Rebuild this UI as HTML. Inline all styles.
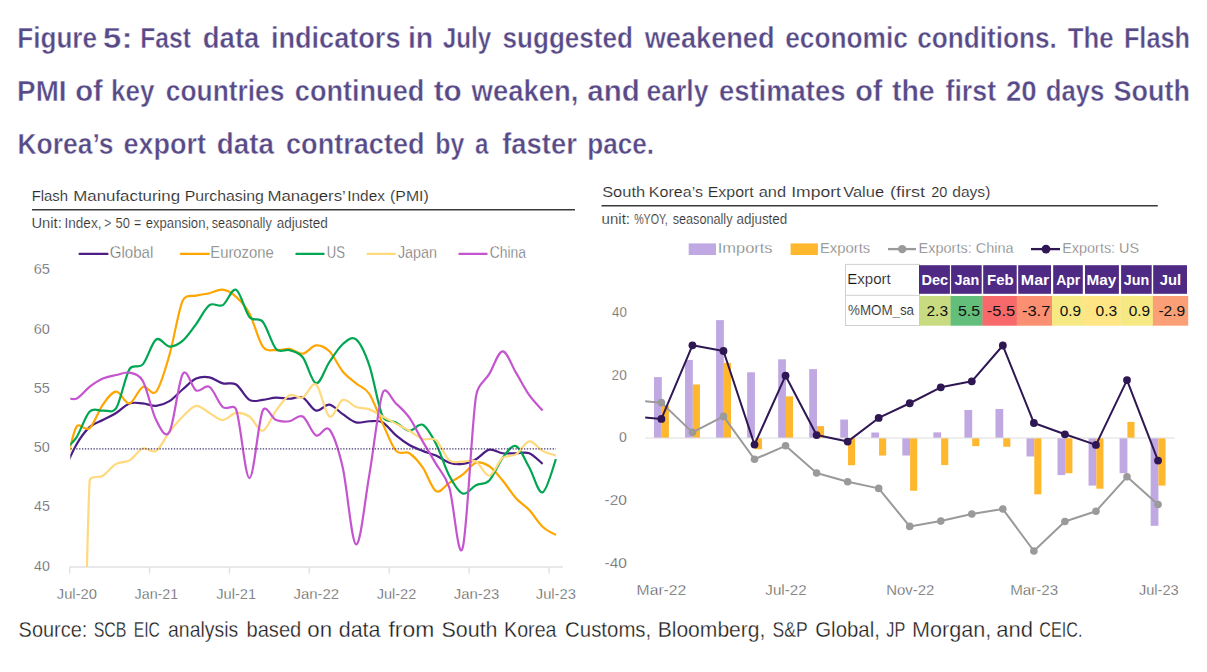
<!DOCTYPE html>
<html><head><meta charset="utf-8"><style>
html,body{margin:0;padding:0;background:#fff;}
body{width:1207px;height:672px;overflow:hidden;position:relative;font-family:"Liberation Sans",sans-serif;}
svg{position:absolute;left:0;top:0;font-family:"Liberation Sans",sans-serif;}
.tt{fill:#574a87;stroke:#fff;stroke-width:0.45px;}
.ax{fill:#4d4d4d;stroke:#fff;stroke-width:0.35px;}
.lg{fill:#686868;stroke:#fff;stroke-width:0.35px;}
.lg2{fill:#707070;stroke:#fff;stroke-width:0.35px;}
.ct{fill:#2b2b2b;stroke:#fff;stroke-width:0.15px;}
.cs{fill:#333;stroke:#fff;stroke-width:0.15px;}
.th{fill:#fff;}
.td{fill:#111;}
.tl{fill:#111;stroke:#fff;stroke-width:0.2px;}
.src{fill:#1a1a1a;stroke:#fff;stroke-width:0.3px;}
</style></head><body>
<svg width="1207" height="672" viewBox="0 0 1207 672">
<text x="17.24" y="47.80" textLength="79.83" lengthAdjust="spacingAndGlyphs" style="font-size:29.30px;font-weight:bold;" class="tt">Figure</text>
<text x="102.80" y="47.80" textLength="29.74" lengthAdjust="spacingAndGlyphs" style="font-size:29.30px;font-weight:bold;" class="tt">5:</text>
<text x="140.24" y="47.80" textLength="50.70" lengthAdjust="spacingAndGlyphs" style="font-size:29.30px;font-weight:bold;" class="tt">Fast</text>
<text x="202.80" y="47.80" textLength="56.63" lengthAdjust="spacingAndGlyphs" style="font-size:29.30px;font-weight:bold;" class="tt">data</text>
<text x="270.90" y="47.80" textLength="129.62" lengthAdjust="spacingAndGlyphs" style="font-size:29.30px;font-weight:bold;" class="tt">indicators</text>
<text x="407.90" y="47.80" textLength="25.34" lengthAdjust="spacingAndGlyphs" style="font-size:29.30px;font-weight:bold;" class="tt">in</text>
<text x="442.74" y="47.80" textLength="48.51" lengthAdjust="spacingAndGlyphs" style="font-size:29.30px;font-weight:bold;" class="tt">July</text>
<text x="502.49" y="47.80" textLength="130.54" lengthAdjust="spacingAndGlyphs" style="font-size:29.30px;font-weight:bold;" class="tt">suggested</text>
<text x="644.67" y="47.80" textLength="129.91" lengthAdjust="spacingAndGlyphs" style="font-size:29.30px;font-weight:bold;" class="tt">weakened</text>
<text x="785.15" y="47.80" textLength="122.79" lengthAdjust="spacingAndGlyphs" style="font-size:29.30px;font-weight:bold;" class="tt">economic</text>
<text x="917.15" y="47.80" textLength="139.74" lengthAdjust="spacingAndGlyphs" style="font-size:29.30px;font-weight:bold;" class="tt">conditions.</text>
<text x="1067.84" y="47.80" textLength="45.81" lengthAdjust="spacingAndGlyphs" style="font-size:29.30px;font-weight:bold;" class="tt">The</text>
<text x="1123.89" y="47.80" textLength="66.18" lengthAdjust="spacingAndGlyphs" style="font-size:29.30px;font-weight:bold;" class="tt">Flash</text>
<text x="17.12" y="101.20" textLength="49.47" lengthAdjust="spacingAndGlyphs" style="font-size:29.30px;font-weight:bold;" class="tt">PMI</text>
<text x="75.13" y="101.20" textLength="27.64" lengthAdjust="spacingAndGlyphs" style="font-size:29.30px;font-weight:bold;" class="tt">of</text>
<text x="110.98" y="101.20" textLength="43.38" lengthAdjust="spacingAndGlyphs" style="font-size:29.30px;font-weight:bold;" class="tt">key</text>
<text x="165.74" y="101.20" textLength="118.74" lengthAdjust="spacingAndGlyphs" style="font-size:29.30px;font-weight:bold;" class="tt">countries</text>
<text x="294.82" y="101.20" textLength="129.44" lengthAdjust="spacingAndGlyphs" style="font-size:29.30px;font-weight:bold;" class="tt">continued</text>
<text x="433.73" y="101.20" textLength="28.03" lengthAdjust="spacingAndGlyphs" style="font-size:29.30px;font-weight:bold;" class="tt">to</text>
<text x="471.57" y="101.20" textLength="106.92" lengthAdjust="spacingAndGlyphs" style="font-size:29.30px;font-weight:bold;" class="tt">weaken,</text>
<text x="587.31" y="101.20" textLength="52.52" lengthAdjust="spacingAndGlyphs" style="font-size:29.30px;font-weight:bold;" class="tt">and</text>
<text x="646.44" y="101.20" textLength="62.11" lengthAdjust="spacingAndGlyphs" style="font-size:29.30px;font-weight:bold;" class="tt">early</text>
<text x="718.90" y="101.20" textLength="126.53" lengthAdjust="spacingAndGlyphs" style="font-size:29.30px;font-weight:bold;" class="tt">estimates</text>
<text x="855.15" y="101.20" textLength="27.22" lengthAdjust="spacingAndGlyphs" style="font-size:29.30px;font-weight:bold;" class="tt">of</text>
<text x="891.94" y="101.20" textLength="42.78" lengthAdjust="spacingAndGlyphs" style="font-size:29.30px;font-weight:bold;" class="tt">the</text>
<text x="945.53" y="101.20" textLength="50.55" lengthAdjust="spacingAndGlyphs" style="font-size:29.30px;font-weight:bold;" class="tt">first</text>
<text x="1005.93" y="101.20" textLength="30.74" lengthAdjust="spacingAndGlyphs" style="font-size:29.30px;font-weight:bold;" class="tt">20</text>
<text x="1045.67" y="101.20" textLength="58.71" lengthAdjust="spacingAndGlyphs" style="font-size:29.30px;font-weight:bold;" class="tt">days</text>
<text x="1113.49" y="101.20" textLength="76.43" lengthAdjust="spacingAndGlyphs" style="font-size:29.30px;font-weight:bold;" class="tt">South</text>
<text x="17.41" y="153.50" textLength="96.08" lengthAdjust="spacingAndGlyphs" style="font-size:29.30px;font-weight:bold;" class="tt">Korea’s</text>
<text x="123.52" y="153.50" textLength="82.55" lengthAdjust="spacingAndGlyphs" style="font-size:29.30px;font-weight:bold;" class="tt">export</text>
<text x="216.79" y="153.50" textLength="57.24" lengthAdjust="spacingAndGlyphs" style="font-size:29.30px;font-weight:bold;" class="tt">data</text>
<text x="286.02" y="153.50" textLength="138.54" lengthAdjust="spacingAndGlyphs" style="font-size:29.30px;font-weight:bold;" class="tt">contracted</text>
<text x="435.18" y="153.50" textLength="29.10" lengthAdjust="spacingAndGlyphs" style="font-size:29.30px;font-weight:bold;" class="tt">by</text>
<text x="475.07" y="153.50" textLength="13.47" lengthAdjust="spacingAndGlyphs" style="font-size:29.30px;font-weight:bold;" class="tt">a</text>
<text x="502.22" y="153.50" textLength="74.66" lengthAdjust="spacingAndGlyphs" style="font-size:29.30px;font-weight:bold;" class="tt">faster</text>
<text x="587.20" y="153.50" textLength="66.86" lengthAdjust="spacingAndGlyphs" style="font-size:29.30px;font-weight:bold;" class="tt">pace.</text>
<line x1="32" y1="209.8" x2="575" y2="209.8" stroke="#3a3a3a" stroke-width="1.5"/>
<line x1="601.5" y1="205.7" x2="1157.8" y2="205.7" stroke="#3a3a3a" stroke-width="1.5"/>
<text x="18.60" y="636.80" textLength="68.72" lengthAdjust="spacingAndGlyphs" style="font-size:21.20px;" class="src">Source:</text>
<text x="93.68" y="636.80" textLength="32.84" lengthAdjust="spacingAndGlyphs" style="font-size:21.20px;" class="src">SCB</text>
<text x="133.81" y="636.80" textLength="26.07" lengthAdjust="spacingAndGlyphs" style="font-size:21.20px;" class="src">EIC</text>
<text x="168.07" y="636.80" textLength="70.21" lengthAdjust="spacingAndGlyphs" style="font-size:21.20px;" class="src">analysis</text>
<text x="246.49" y="636.80" textLength="54.81" lengthAdjust="spacingAndGlyphs" style="font-size:21.20px;" class="src">based</text>
<text x="307.25" y="636.80" textLength="24.79" lengthAdjust="spacingAndGlyphs" style="font-size:21.20px;" class="src">on</text>
<text x="338.69" y="636.80" textLength="41.79" lengthAdjust="spacingAndGlyphs" style="font-size:21.20px;" class="src">data</text>
<text x="388.46" y="636.80" textLength="45.83" lengthAdjust="spacingAndGlyphs" style="font-size:21.20px;" class="src">from</text>
<text x="441.54" y="636.80" textLength="56.02" lengthAdjust="spacingAndGlyphs" style="font-size:21.20px;" class="src">South</text>
<text x="504.08" y="636.80" textLength="52.39" lengthAdjust="spacingAndGlyphs" style="font-size:21.20px;" class="src">Korea</text>
<text x="565.08" y="636.80" textLength="86.17" lengthAdjust="spacingAndGlyphs" style="font-size:21.20px;" class="src">Customs,</text>
<text x="657.66" y="636.80" textLength="107.76" lengthAdjust="spacingAndGlyphs" style="font-size:21.20px;" class="src">Bloomberg,</text>
<text x="772.51" y="636.80" textLength="35.08" lengthAdjust="spacingAndGlyphs" style="font-size:21.20px;" class="src">S&amp;P</text>
<text x="815.28" y="636.80" textLength="64.58" lengthAdjust="spacingAndGlyphs" style="font-size:21.20px;" class="src">Global,</text>
<text x="886.36" y="636.80" textLength="18.99" lengthAdjust="spacingAndGlyphs" style="font-size:21.20px;" class="src">JP</text>
<text x="912.02" y="636.80" textLength="79.35" lengthAdjust="spacingAndGlyphs" style="font-size:21.20px;" class="src">Morgan,</text>
<text x="996.36" y="636.80" textLength="36.73" lengthAdjust="spacingAndGlyphs" style="font-size:21.20px;" class="src">and</text>
<text x="1039.29" y="636.80" textLength="43.16" lengthAdjust="spacingAndGlyphs" style="font-size:21.20px;" class="src">CEIC.</text>
<text x="31.67" y="201.10" textLength="36.36" lengthAdjust="spacingAndGlyphs" style="font-size:15.50px;" class="ct">Flash</text>
<text x="73.21" y="201.10" textLength="106.88" lengthAdjust="spacingAndGlyphs" style="font-size:15.50px;" class="ct">Manufacturing</text>
<text x="184.69" y="201.10" textLength="79.20" lengthAdjust="spacingAndGlyphs" style="font-size:15.50px;" class="ct">Purchasing</text>
<text x="267.41" y="201.10" textLength="78.42" lengthAdjust="spacingAndGlyphs" style="font-size:15.50px;" class="ct">Managers’</text>
<text x="347.28" y="201.10" textLength="37.60" lengthAdjust="spacingAndGlyphs" style="font-size:15.50px;" class="ct">Index</text>
<text x="390.11" y="201.10" textLength="38.55" lengthAdjust="spacingAndGlyphs" style="font-size:15.50px;" class="ct">(PMI)</text>
<text x="602.16" y="196.90" textLength="42.98" lengthAdjust="spacingAndGlyphs" style="font-size:15.50px;" class="ct">South</text>
<text x="648.88" y="196.90" textLength="54.09" lengthAdjust="spacingAndGlyphs" style="font-size:15.50px;" class="ct">Korea’s</text>
<text x="707.68" y="196.90" textLength="46.14" lengthAdjust="spacingAndGlyphs" style="font-size:15.50px;" class="ct">Export</text>
<text x="758.70" y="196.90" textLength="27.34" lengthAdjust="spacingAndGlyphs" style="font-size:15.50px;" class="ct">and</text>
<text x="791.18" y="196.90" textLength="49.68" lengthAdjust="spacingAndGlyphs" style="font-size:15.50px;" class="ct">Import</text>
<text x="843.22" y="196.90" textLength="40.80" lengthAdjust="spacingAndGlyphs" style="font-size:15.50px;" class="ct">Value</text>
<text x="889.97" y="196.90" textLength="35.19" lengthAdjust="spacingAndGlyphs" style="font-size:15.50px;" class="ct">(first</text>
<text x="931.28" y="196.90" textLength="16.10" lengthAdjust="spacingAndGlyphs" style="font-size:15.50px;" class="ct">20</text>
<text x="952.24" y="196.90" textLength="38.10" lengthAdjust="spacingAndGlyphs" style="font-size:15.50px;" class="ct">days)</text>
<text x="31.45" y="228.00" textLength="30.39" lengthAdjust="spacingAndGlyphs" style="font-size:14.00px;" class="cs">Unit:</text>
<text x="64.55" y="228.00" textLength="36.86" lengthAdjust="spacingAndGlyphs" style="font-size:14.00px;" class="cs">Index,</text>
<text x="104.29" y="228.00" textLength="7.10" lengthAdjust="spacingAndGlyphs" style="font-size:14.00px;" class="cs">&gt;</text>
<text x="115.58" y="228.00" textLength="14.33" lengthAdjust="spacingAndGlyphs" style="font-size:14.00px;" class="cs">50</text>
<text x="134.12" y="228.00" textLength="7.19" lengthAdjust="spacingAndGlyphs" style="font-size:14.00px;" class="cs">=</text>
<text x="145.74" y="228.00" textLength="63.33" lengthAdjust="spacingAndGlyphs" style="font-size:14.00px;" class="cs">expansion,</text>
<text x="211.75" y="228.00" textLength="59.98" lengthAdjust="spacingAndGlyphs" style="font-size:14.00px;" class="cs">seasonally</text>
<text x="276.63" y="228.00" textLength="51.13" lengthAdjust="spacingAndGlyphs" style="font-size:14.00px;" class="cs">adjusted</text>
<text x="601.62" y="223.70" textLength="28.44" lengthAdjust="spacingAndGlyphs" style="font-size:14.00px;" class="cs">unit:</text>
<text x="634.13" y="223.70" textLength="33.63" lengthAdjust="spacingAndGlyphs" style="font-size:14.00px;" class="cs">%YOY,</text>
<text x="672.65" y="223.70" textLength="59.88" lengthAdjust="spacingAndGlyphs" style="font-size:14.00px;" class="cs">seasonally</text>
<text x="736.53" y="223.70" textLength="50.72" lengthAdjust="spacingAndGlyphs" style="font-size:14.00px;" class="cs">adjusted</text>
<defs><clipPath id="lc"><rect x="70.3" y="255" width="494" height="312"/></clipPath></defs>
<line x1="69.4" y1="567" x2="563" y2="567" stroke="#e2e2e2" stroke-width="1.6"/>
<line x1="69.7" y1="567" x2="69.7" y2="573.5" stroke="#e2e2e2" stroke-width="1.5"/>
<line x1="149.6" y1="567" x2="149.6" y2="573.5" stroke="#e2e2e2" stroke-width="1.5"/>
<line x1="229.5" y1="567" x2="229.5" y2="573.5" stroke="#e2e2e2" stroke-width="1.5"/>
<line x1="309.3" y1="567" x2="309.3" y2="573.5" stroke="#e2e2e2" stroke-width="1.5"/>
<line x1="389.2" y1="567" x2="389.2" y2="573.5" stroke="#e2e2e2" stroke-width="1.5"/>
<line x1="469.1" y1="567" x2="469.1" y2="573.5" stroke="#e2e2e2" stroke-width="1.5"/>
<line x1="549.0" y1="567" x2="549.0" y2="573.5" stroke="#e2e2e2" stroke-width="1.5"/>
<g clip-path="url(#lc)">
<path d="M62.87,473.38 C65.09,468.64 71.76,452.65 76.20,444.95 C80.64,437.24 85.08,431.32 89.53,427.17 C93.97,423.02 98.41,422.43 102.85,420.06 C107.29,417.69 111.74,415.71 116.18,412.95 C120.62,410.19 125.06,405.05 129.50,403.47 C133.95,401.89 138.39,403.08 142.83,403.47 C147.27,403.87 151.71,406.23 156.16,405.84 C160.60,405.44 165.04,403.87 169.48,401.10 C173.92,398.34 178.37,393.00 182.81,389.25 C187.25,385.50 191.69,380.56 196.13,378.59 C200.58,376.61 205.02,376.61 209.46,377.40 C213.90,378.19 218.34,382.14 222.79,383.32 C227.23,384.51 231.67,381.75 236.11,384.51 C240.55,387.27 245.00,397.35 249.44,399.91 C253.88,402.48 258.32,400.31 262.76,399.91 C267.21,399.52 271.65,397.74 276.09,397.55 C280.53,397.35 284.97,398.73 289.42,398.73 C293.86,398.73 298.30,395.57 302.74,397.55 C307.18,399.52 311.63,409.39 316.07,410.58 C320.51,411.76 324.95,404.06 329.39,404.65 C333.84,405.25 338.28,411.17 342.72,414.13 C347.16,417.10 351.60,421.24 356.05,422.43 C360.49,423.61 364.93,421.25 369.37,421.25 C373.81,421.25 378.26,420.06 382.70,422.43 C387.14,424.80 391.58,431.71 396.02,435.46 C400.47,439.22 404.91,442.38 409.35,444.95 C413.79,447.51 418.23,449.09 422.68,450.87 C427.12,452.65 431.56,453.63 436.00,455.61 C440.44,457.59 444.89,461.34 449.33,462.72 C453.77,464.10 458.21,464.50 462.65,463.90 C467.10,463.31 471.54,461.53 475.98,459.16 C480.42,456.79 484.86,450.67 489.31,449.69 C493.75,448.70 498.19,452.65 502.63,453.24 C507.07,453.83 511.52,453.24 515.96,453.24 C520.40,453.24 524.84,451.46 529.28,453.24 C533.73,455.02 540.39,462.13 542.61,463.90" fill="none" stroke="#4b1d85" stroke-width="2.2" stroke-linejoin="round"/>
<path d="M62.87,479.31 C65.09,470.62 71.76,435.66 76.20,427.17 C79.30,421.24 85.08,432.11 89.53,428.35 C93.97,424.60 98.41,410.78 102.85,404.65 C107.29,398.53 111.74,391.82 116.18,391.62 C120.62,391.42 125.06,404.26 129.50,403.47 C133.95,402.68 138.39,388.86 142.83,386.88 C147.27,384.90 151.71,396.95 156.16,391.62 C160.60,386.29 165.04,370.09 169.48,354.88 C173.92,339.68 178.37,310.25 182.81,300.38 C185.71,293.93 191.69,296.82 196.13,295.63 C200.58,294.45 205.02,294.25 209.46,293.26 C213.90,292.28 218.34,289.12 222.79,289.71 C227.23,290.30 231.67,292.87 236.11,296.82 C240.55,300.77 245.00,305.12 249.44,313.41 C253.88,321.71 258.32,340.47 262.76,346.59 C266.81,352.17 271.65,349.75 276.09,350.15 C280.53,350.54 284.97,348.37 289.42,348.96 C293.86,349.55 298.30,354.29 302.74,353.70 C307.18,353.11 311.63,345.80 316.07,345.40 C320.51,345.01 324.95,346.98 329.39,351.33 C333.84,355.68 338.28,366.14 342.72,371.48 C347.16,376.81 351.60,379.57 356.05,383.32 C360.49,387.08 364.93,387.27 369.37,393.99 C373.81,400.71 378.26,414.13 382.70,423.62 C387.14,433.10 391.58,445.93 396.02,450.87 C400.47,455.81 404.91,450.48 409.35,453.24 C413.79,456.00 418.23,461.14 422.68,467.46 C427.12,473.78 431.56,488.59 436.00,491.16 C440.44,493.73 444.89,485.63 449.33,482.87 C453.77,480.10 458.21,477.93 462.65,474.57 C467.10,471.21 471.54,464.10 475.98,462.72 C480.42,461.34 484.86,463.31 489.31,466.27 C493.75,469.24 498.19,475.16 502.63,480.50 C507.07,485.83 511.52,493.33 515.96,498.27 C520.40,503.21 524.84,505.38 529.28,510.12 C533.73,514.86 538.17,522.56 542.61,526.71 C547.05,530.86 553.72,533.62 555.94,535.00" fill="none" stroke="#ffa500" stroke-width="2.2" stroke-linejoin="round"/>
<path d="M62.87,450.87 C65.09,448.70 71.76,444.35 76.20,437.84 C80.64,431.32 85.08,416.31 89.53,411.76 C93.97,407.22 98.41,411.17 102.85,410.58 C107.29,409.99 112.52,413.90 116.18,408.21 C120.62,401.30 125.06,376.41 129.50,369.10 C133.18,363.06 138.39,369.30 142.83,364.37 C147.27,359.43 151.71,342.44 156.16,339.48 C160.60,336.52 165.04,346.39 169.48,346.59 C173.92,346.79 178.37,344.42 182.81,340.66 C187.25,336.91 191.69,330.00 196.13,324.07 C200.58,318.15 205.02,308.27 209.46,305.12 C213.90,301.96 218.34,307.68 222.79,305.12 C227.23,302.55 231.67,287.74 236.11,289.71 C240.55,291.69 245.00,311.63 249.44,316.96 C253.88,322.30 258.32,316.37 262.76,321.70 C267.21,327.04 271.65,344.22 276.09,348.96 C280.53,353.70 284.97,348.76 289.42,350.15 C293.86,351.53 298.30,351.73 302.74,357.25 C307.18,362.78 311.63,382.53 316.07,383.32 C320.51,384.12 324.95,368.51 329.39,362.00 C333.84,355.48 338.28,347.97 342.72,344.22 C347.16,340.47 351.60,335.92 356.05,339.48 C360.49,343.03 364.93,352.71 369.37,365.55 C373.81,378.39 378.26,407.02 382.70,416.50 C385.79,423.11 391.58,420.06 396.02,422.43 C400.47,424.80 404.91,430.33 409.35,430.73 C413.79,431.12 418.23,422.63 422.68,424.80 C427.12,426.97 431.56,435.27 436.00,443.76 C440.44,452.25 444.89,467.46 449.33,475.75 C453.77,484.05 458.21,491.95 462.65,493.53 C467.10,495.11 471.54,487.41 475.98,485.24 C480.42,483.06 484.86,485.04 489.31,480.50 C493.75,475.95 498.19,463.71 502.63,457.98 C507.07,452.25 511.52,444.55 515.96,446.13 C520.40,447.71 524.84,459.76 529.28,467.46 C533.73,475.16 538.17,493.73 542.61,492.35 C547.05,490.96 553.72,464.69 555.94,459.16" fill="none" stroke="#00a651" stroke-width="2.2" stroke-linejoin="round"/>
<path d="M62.87,1041.00 C65.09,1041.00 75.88,1047.66 76.20,1041.00 C80.64,947.78 85.08,575.89 89.53,481.68 C89.87,474.40 98.41,478.72 102.85,475.75 C107.29,472.79 111.74,466.47 116.18,463.90 C120.62,461.34 125.06,462.92 129.50,460.35 C133.95,457.78 138.39,450.08 142.83,448.50 C147.27,446.92 151.71,453.64 156.16,450.87 C160.60,448.11 165.04,437.64 169.48,431.91 C173.92,426.18 178.37,420.85 182.81,416.50 C187.25,412.16 191.69,406.43 196.13,405.84 C200.58,405.25 205.02,410.58 209.46,412.95 C213.90,415.32 218.34,420.06 222.79,420.06 C227.23,420.06 231.67,413.54 236.11,412.95 C240.55,412.36 245.00,413.54 249.44,416.50 C253.88,419.47 258.32,431.71 262.76,430.73 C267.21,429.74 271.65,416.50 276.09,410.58 C280.53,404.65 284.97,397.35 289.42,395.18 C293.86,393.00 298.30,399.32 302.74,397.55 C307.18,395.77 311.63,381.35 316.07,384.51 C320.51,387.67 324.95,413.94 329.39,416.50 C333.84,419.07 338.28,401.49 342.72,399.91 C347.16,398.33 351.60,405.44 356.05,407.02 C360.49,408.61 364.93,407.82 369.37,409.40 C373.81,410.98 378.26,414.13 382.70,416.50 C387.14,418.88 391.58,421.25 396.02,423.62 C400.47,425.99 404.91,428.16 409.35,430.73 C413.79,433.29 418.23,437.44 422.68,439.02 C427.12,440.60 431.56,436.65 436.00,440.20 C440.44,443.76 444.89,456.80 449.33,460.35 C453.77,463.91 458.21,461.34 462.65,461.54 C467.10,461.73 471.54,459.17 475.98,461.54 C480.42,463.91 484.86,476.35 489.31,475.75 C493.75,475.16 498.19,461.53 502.63,457.98 C507.07,454.42 511.52,457.19 515.96,454.43 C520.40,451.66 524.84,441.98 529.28,441.39 C533.73,440.80 538.17,448.50 542.61,450.87 C547.05,453.24 553.72,454.82 555.94,455.61" fill="none" stroke="#ffd97d" stroke-width="2.2" stroke-linejoin="round"/>
<path d="M62.87,396.36 C65.09,396.75 71.76,400.31 76.20,398.73 C80.64,397.15 85.08,390.24 89.53,386.88 C93.97,383.52 98.41,380.56 102.85,378.59 C107.29,376.61 111.74,376.02 116.18,375.03 C120.62,374.04 125.06,371.67 129.50,372.66 C133.95,373.65 138.98,374.11 142.83,380.95 C147.27,388.85 151.71,411.57 156.16,420.06 C160.29,427.96 165.04,439.61 169.48,431.91 C173.92,424.21 178.37,380.76 182.81,373.85 C187.25,366.93 191.69,388.26 196.13,390.44 C200.58,392.61 205.02,384.12 209.46,386.88 C213.90,389.64 218.34,403.27 222.79,407.02 C227.23,410.78 233.74,403.06 236.11,409.40 C240.55,421.25 245.00,477.93 249.44,478.12 C253.88,478.32 258.32,420.26 262.76,410.58 C266.18,403.15 271.65,418.28 276.09,420.06 C280.53,421.84 284.97,421.84 289.42,421.25 C293.86,420.65 298.30,414.13 302.74,416.50 C307.18,418.88 311.63,433.29 316.07,435.46 C320.51,437.64 324.95,424.21 329.39,429.54 C333.84,434.87 338.28,448.30 342.72,467.46 C347.16,486.62 351.60,543.30 356.05,544.49 C360.49,545.67 364.93,499.85 369.37,474.57 C373.81,449.29 378.26,404.65 382.70,392.80 C385.69,384.81 391.58,399.32 396.02,403.47 C400.47,407.62 404.91,411.37 409.35,417.69 C413.79,424.01 418.23,433.69 422.68,441.39 C427.12,449.09 431.56,456.20 436.00,463.90 C440.44,471.61 445.22,474.64 449.33,487.60 C453.77,501.63 458.21,563.25 462.65,548.04 C467.10,532.83 471.54,425.39 475.98,396.36 C477.96,383.43 484.86,381.35 489.31,373.85 C493.75,366.34 498.19,351.53 502.63,351.33 C507.07,351.13 511.52,365.35 515.96,372.66 C520.40,379.97 524.84,388.86 529.28,395.18 C533.73,401.50 540.39,408.01 542.61,410.58" fill="none" stroke="#c455cf" stroke-width="2.2" stroke-linejoin="round"/>
<line x1="70.5" y1="448.8" x2="556" y2="448.8" stroke="#45356f" stroke-width="1.35" stroke-dasharray="1.35 1.52"/>
</g>
<text x="33.67" y="274.45" textLength="16.25" lengthAdjust="spacingAndGlyphs" style="font-size:15.50px;" class="ax">65</text>
<text x="33.67" y="333.70" textLength="16.21" lengthAdjust="spacingAndGlyphs" style="font-size:15.50px;" class="ax">60</text>
<text x="33.82" y="392.95" textLength="16.09" lengthAdjust="spacingAndGlyphs" style="font-size:15.50px;" class="ax">55</text>
<text x="33.82" y="452.20" textLength="16.05" lengthAdjust="spacingAndGlyphs" style="font-size:15.50px;" class="ax">50</text>
<text x="34.08" y="511.45" textLength="15.82" lengthAdjust="spacingAndGlyphs" style="font-size:15.50px;" class="ax">45</text>
<text x="34.08" y="570.70" textLength="15.78" lengthAdjust="spacingAndGlyphs" style="font-size:15.50px;" class="ax">40</text>
<text x="56.78" y="599.00" textLength="40.19" lengthAdjust="spacingAndGlyphs" style="font-size:15.50px;" class="ax">Jul-20</text>
<text x="134.59" y="599.00" textLength="43.70" lengthAdjust="spacingAndGlyphs" style="font-size:15.50px;" class="ax">Jan-21</text>
<text x="216.18" y="599.00" textLength="39.93" lengthAdjust="spacingAndGlyphs" style="font-size:15.50px;" class="ax">Jul-21</text>
<text x="293.48" y="599.00" textLength="45.67" lengthAdjust="spacingAndGlyphs" style="font-size:15.50px;" class="ax">Jan-22</text>
<text x="376.68" y="599.00" textLength="39.56" lengthAdjust="spacingAndGlyphs" style="font-size:15.50px;" class="ax">Jul-22</text>
<text x="453.78" y="599.00" textLength="45.56" lengthAdjust="spacingAndGlyphs" style="font-size:15.50px;" class="ax">Jan-23</text>
<text x="535.78" y="599.00" textLength="40.17" lengthAdjust="spacingAndGlyphs" style="font-size:15.50px;" class="ax">Jul-23</text>
<line x1="79.6" y1="253.9" x2="107.5" y2="253.9" stroke="#4b1d85" stroke-width="2.2" stroke-linecap="round"/>
<text x="109.75" y="257.90" textLength="43.58" lengthAdjust="spacingAndGlyphs" style="font-size:15.70px;" class="lg">Global</text>
<line x1="180.9" y1="253.9" x2="208.8" y2="253.9" stroke="#ffa500" stroke-width="2.2" stroke-linecap="round"/>
<text x="210.28" y="257.90" textLength="63.47" lengthAdjust="spacingAndGlyphs" style="font-size:15.70px;" class="lg">Eurozone</text>
<line x1="296.4" y1="253.9" x2="323.6" y2="253.9" stroke="#00a651" stroke-width="2.2" stroke-linecap="round"/>
<text x="326.69" y="257.90" textLength="18.19" lengthAdjust="spacingAndGlyphs" style="font-size:15.70px;" class="lg">US</text>
<line x1="367.6" y1="253.9" x2="395.0" y2="253.9" stroke="#ffd97d" stroke-width="2.2" stroke-linecap="round"/>
<text x="397.89" y="257.90" textLength="39.04" lengthAdjust="spacingAndGlyphs" style="font-size:15.70px;" class="lg">Japan</text>
<line x1="459.4" y1="253.9" x2="486.6" y2="253.9" stroke="#c455cf" stroke-width="2.2" stroke-linecap="round"/>
<text x="489.81" y="257.90" textLength="36.26" lengthAdjust="spacingAndGlyphs" style="font-size:15.70px;" class="lg">China</text>
<defs><clipPath id="rc"><rect x="645.2" y="280" width="530" height="300"/></clipPath></defs>
<rect x="654.00" y="377.09" width="7.8" height="60.91" fill="#c0a9e3"/>
<rect x="685.04" y="359.91" width="7.8" height="78.09" fill="#c0a9e3"/>
<rect x="716.08" y="320.12" width="7.8" height="117.88" fill="#c0a9e3"/>
<rect x="747.12" y="372.27" width="7.8" height="65.73" fill="#c0a9e3"/>
<rect x="778.16" y="359.31" width="7.8" height="78.69" fill="#c0a9e3"/>
<rect x="809.20" y="369.14" width="7.8" height="68.86" fill="#c0a9e3"/>
<rect x="840.24" y="419.53" width="7.8" height="18.47" fill="#c0a9e3"/>
<rect x="871.28" y="432.49" width="7.8" height="5.51" fill="#c0a9e3"/>
<rect x="902.32" y="438.00" width="7.8" height="17.53" fill="#c0a9e3"/>
<rect x="933.36" y="432.37" width="7.8" height="5.63" fill="#c0a9e3"/>
<rect x="964.40" y="409.99" width="7.8" height="28.01" fill="#c0a9e3"/>
<rect x="995.44" y="408.98" width="7.8" height="29.02" fill="#c0a9e3"/>
<rect x="1026.48" y="438.00" width="7.8" height="18.47" fill="#c0a9e3"/>
<rect x="1057.52" y="438.00" width="7.8" height="37.09" fill="#c0a9e3"/>
<rect x="1088.56" y="438.00" width="7.8" height="47.58" fill="#c0a9e3"/>
<rect x="1119.60" y="438.00" width="7.8" height="35.21" fill="#c0a9e3"/>
<rect x="1150.64" y="438.00" width="7.8" height="87.80" fill="#c0a9e3"/>
<rect x="661.80" y="405.76" width="7.1" height="32.24" fill="#ffb72d"/>
<rect x="692.84" y="384.48" width="7.1" height="53.52" fill="#ffb72d"/>
<rect x="723.88" y="362.88" width="7.1" height="75.12" fill="#ffb72d"/>
<rect x="754.92" y="438.00" width="7.1" height="11.27" fill="#ffb72d"/>
<rect x="785.96" y="396.37" width="7.1" height="41.63" fill="#ffb72d"/>
<rect x="817.00" y="426.11" width="7.1" height="11.89" fill="#ffb72d"/>
<rect x="848.04" y="438.00" width="7.1" height="27.23" fill="#ffb72d"/>
<rect x="879.08" y="438.00" width="7.1" height="17.53" fill="#ffb72d"/>
<rect x="910.12" y="438.00" width="7.1" height="52.74" fill="#ffb72d"/>
<rect x="941.16" y="438.00" width="7.1" height="27.07" fill="#ffb72d"/>
<rect x="972.20" y="438.00" width="7.1" height="8.14" fill="#ffb72d"/>
<rect x="1003.24" y="438.00" width="7.1" height="8.76" fill="#ffb72d"/>
<rect x="1034.28" y="438.00" width="7.1" height="56.34" fill="#ffb72d"/>
<rect x="1065.32" y="438.00" width="7.1" height="35.21" fill="#ffb72d"/>
<rect x="1096.36" y="438.00" width="7.1" height="50.71" fill="#ffb72d"/>
<rect x="1127.40" y="421.91" width="7.1" height="16.09" fill="#ffb72d"/>
<rect x="1158.44" y="438.00" width="7.1" height="47.58" fill="#ffb72d"/>
<line x1="645.2" y1="438.00" x2="1174.6" y2="438.00" stroke="#dedede" stroke-width="1.2"/>
<g clip-path="url(#rc)">
<polyline points="630.36,399.81 661.40,402.63 692.44,432.37 723.48,416.40 754.52,459.28 785.56,445.82 816.60,473.06 847.64,481.69 878.68,488.39 909.72,526.39 940.76,521.10 971.80,514.06 1002.84,509.05 1033.88,550.99 1064.92,521.57 1095.96,511.24 1127.00,476.81 1158.04,504.51" fill="none" stroke="#9a9a9a" stroke-width="2.0" stroke-linejoin="round"/>
</g>
<circle cx="661.40" cy="402.63" r="3.8" fill="#9a9a9a"/>
<circle cx="692.44" cy="432.37" r="3.8" fill="#9a9a9a"/>
<circle cx="723.48" cy="416.40" r="3.8" fill="#9a9a9a"/>
<circle cx="754.52" cy="459.28" r="3.8" fill="#9a9a9a"/>
<circle cx="785.56" cy="445.82" r="3.8" fill="#9a9a9a"/>
<circle cx="816.60" cy="473.06" r="3.8" fill="#9a9a9a"/>
<circle cx="847.64" cy="481.69" r="3.8" fill="#9a9a9a"/>
<circle cx="878.68" cy="488.39" r="3.8" fill="#9a9a9a"/>
<circle cx="909.72" cy="526.39" r="3.8" fill="#9a9a9a"/>
<circle cx="940.76" cy="521.10" r="3.8" fill="#9a9a9a"/>
<circle cx="971.80" cy="514.06" r="3.8" fill="#9a9a9a"/>
<circle cx="1002.84" cy="509.05" r="3.8" fill="#9a9a9a"/>
<circle cx="1033.88" cy="550.99" r="3.8" fill="#9a9a9a"/>
<circle cx="1064.92" cy="521.57" r="3.8" fill="#9a9a9a"/>
<circle cx="1095.96" cy="511.24" r="3.8" fill="#9a9a9a"/>
<circle cx="1127.00" cy="476.81" r="3.8" fill="#9a9a9a"/>
<circle cx="1158.04" cy="504.51" r="3.8" fill="#9a9a9a"/>
<g clip-path="url(#rc)">
<polyline points="630.36,416.40 661.40,418.91 692.44,345.35 723.48,350.99 754.52,444.57 785.56,375.71 816.60,435.03 847.64,441.60 878.68,417.97 909.72,403.26 940.76,387.29 971.80,381.35 1002.84,345.51 1033.88,422.98 1064.92,434.31 1095.96,444.89 1127.00,380.10 1158.04,460.54" fill="none" stroke="#2e1752" stroke-width="2.0" stroke-linejoin="round"/>
</g>
<circle cx="661.40" cy="418.91" r="3.9" fill="#2e1752"/>
<circle cx="692.44" cy="345.35" r="3.9" fill="#2e1752"/>
<circle cx="723.48" cy="350.99" r="3.9" fill="#2e1752"/>
<circle cx="754.52" cy="444.57" r="3.9" fill="#2e1752"/>
<circle cx="785.56" cy="375.71" r="3.9" fill="#2e1752"/>
<circle cx="816.60" cy="435.03" r="3.9" fill="#2e1752"/>
<circle cx="847.64" cy="441.60" r="3.9" fill="#2e1752"/>
<circle cx="878.68" cy="417.97" r="3.9" fill="#2e1752"/>
<circle cx="909.72" cy="403.26" r="3.9" fill="#2e1752"/>
<circle cx="940.76" cy="387.29" r="3.9" fill="#2e1752"/>
<circle cx="971.80" cy="381.35" r="3.9" fill="#2e1752"/>
<circle cx="1002.84" cy="345.51" r="3.9" fill="#2e1752"/>
<circle cx="1033.88" cy="422.98" r="3.9" fill="#2e1752"/>
<circle cx="1064.92" cy="434.31" r="3.9" fill="#2e1752"/>
<circle cx="1095.96" cy="444.89" r="3.9" fill="#2e1752"/>
<circle cx="1127.00" cy="380.10" r="3.9" fill="#2e1752"/>
<circle cx="1158.04" cy="460.54" r="3.9" fill="#2e1752"/>
<text x="612.00" y="317.20" textLength="14.83" lengthAdjust="spacingAndGlyphs" style="font-size:15.50px;" class="ax">40</text>
<text x="611.62" y="379.80" textLength="15.23" lengthAdjust="spacingAndGlyphs" style="font-size:15.50px;" class="ax">20</text>
<text x="619.04" y="442.40" textLength="7.80" lengthAdjust="spacingAndGlyphs" style="font-size:15.50px;" class="ax">0</text>
<text x="604.50" y="505.00" textLength="22.38" lengthAdjust="spacingAndGlyphs" style="font-size:15.50px;" class="ax">-20</text>
<text x="604.50" y="567.60" textLength="22.38" lengthAdjust="spacingAndGlyphs" style="font-size:15.50px;" class="ax">-40</text>
<text x="636.61" y="594.70" textLength="49.68" lengthAdjust="spacingAndGlyphs" style="font-size:15.50px;" class="ax">Mar-22</text>
<text x="765.37" y="594.70" textLength="41.20" lengthAdjust="spacingAndGlyphs" style="font-size:15.50px;" class="ax">Jul-22</text>
<text x="886.17" y="594.70" textLength="48.09" lengthAdjust="spacingAndGlyphs" style="font-size:15.50px;" class="ax">Nov-22</text>
<text x="1010.15" y="594.70" textLength="47.99" lengthAdjust="spacingAndGlyphs" style="font-size:15.50px;" class="ax">Mar-23</text>
<text x="1138.98" y="594.70" textLength="39.65" lengthAdjust="spacingAndGlyphs" style="font-size:15.50px;" class="ax">Jul-23</text>
<rect x="688.7" y="243.4" width="27.3" height="11.6" fill="#c0a9e3"/>
<text x="717.78" y="252.80" textLength="54.78" lengthAdjust="spacingAndGlyphs" style="font-size:15.30px;" class="lg2">Imports</text>
<rect x="790.6" y="243.4" width="27.3" height="11.6" fill="#ffb72d"/>
<text x="819.98" y="252.80" textLength="50.24" lengthAdjust="spacingAndGlyphs" style="font-size:15.30px;" class="lg2">Exports</text>
<line x1="888" y1="249.1" x2="916" y2="249.1" stroke="#9a9a9a" stroke-width="2.3"/><circle cx="902.2" cy="249.1" r="4.2" fill="#9a9a9a"/>
<text x="918.61" y="252.80" textLength="94.88" lengthAdjust="spacingAndGlyphs" style="font-size:15.30px;" class="lg2">Exports: China</text>
<line x1="1031" y1="249.1" x2="1060" y2="249.1" stroke="#2e1752" stroke-width="2.3"/><circle cx="1046" cy="249.1" r="4.4" fill="#2e1752"/>
<text x="1062.21" y="252.80" textLength="76.94" lengthAdjust="spacingAndGlyphs" style="font-size:15.30px;" class="lg2">Exports: US</text>
<rect x="845.5" y="264.4" width="74" height="61.1" fill="#fff" stroke="#d0d0d0" stroke-width="1"/>
<line x1="845.5" y1="295.3" x2="919" y2="295.3" stroke="#d0d0d0" stroke-width="1"/>
<rect x="919.0" y="265.2" width="30.9" height="28.6" fill="#4e2a84"/>
<text x="921.52" y="284.80" textLength="26.71" lengthAdjust="spacingAndGlyphs" style="font-size:14.00px;font-weight:bold;" class="th">Dec</text>
<rect x="951.1" y="265.2" width="30.6" height="28.6" fill="#4e2a84"/>
<text x="954.59" y="284.80" textLength="24.68" lengthAdjust="spacingAndGlyphs" style="font-size:14.00px;font-weight:bold;" class="th">Jan</text>
<rect x="983.2" y="265.2" width="33.5" height="28.6" fill="#4e2a84"/>
<text x="987.09" y="284.80" textLength="26.51" lengthAdjust="spacingAndGlyphs" style="font-size:14.00px;font-weight:bold;" class="th">Feb</text>
<rect x="1018.2" y="265.2" width="32.8" height="28.6" fill="#4e2a84"/>
<text x="1020.82" y="284.80" textLength="28.50" lengthAdjust="spacingAndGlyphs" style="font-size:14.00px;font-weight:bold;" class="th">Mar</text>
<rect x="1053.2" y="265.2" width="29.6" height="28.6" fill="#4e2a84"/>
<text x="1056.15" y="284.80" textLength="24.16" lengthAdjust="spacingAndGlyphs" style="font-size:14.00px;font-weight:bold;" class="th">Apr</text>
<rect x="1085.0" y="265.2" width="33.9" height="28.6" fill="#4e2a84"/>
<text x="1086.47" y="284.80" textLength="29.82" lengthAdjust="spacingAndGlyphs" style="font-size:14.00px;font-weight:bold;" class="th">May</text>
<rect x="1121.1" y="265.2" width="30.6" height="28.6" fill="#4e2a84"/>
<text x="1123.89" y="284.80" textLength="25.38" lengthAdjust="spacingAndGlyphs" style="font-size:14.00px;font-weight:bold;" class="th">Jun</text>
<rect x="1153.2" y="265.2" width="33.8" height="28.6" fill="#4e2a84"/>
<text x="1159.68" y="284.80" textLength="21.35" lengthAdjust="spacingAndGlyphs" style="font-size:14.00px;font-weight:bold;" class="th">Jul</text>
<rect x="919.0" y="296" width="31.9" height="29.7" fill="#c9db81"/>
<rect x="950.6" y="296" width="32.2" height="29.7" fill="#63be7b"/>
<rect x="982.5" y="296" width="34.5" height="29.7" fill="#f8696b"/>
<rect x="1016.7" y="296" width="35.6" height="29.7" fill="#fa8f72"/>
<rect x="1052.0" y="296" width="32.4" height="29.7" fill="#f6e883"/>
<rect x="1084.1" y="296" width="36.5" height="29.7" fill="#ffe583"/>
<rect x="1120.3" y="296" width="32.9" height="29.7" fill="#f6e883"/>
<rect x="1152.9" y="296" width="35.3" height="29.7" fill="#fba076"/>
<text x="926.42" y="316.20" textLength="21.64" lengthAdjust="spacingAndGlyphs" style="font-size:14.00px;" class="td">2.3</text>
<text x="957.96" y="316.20" textLength="22.07" lengthAdjust="spacingAndGlyphs" style="font-size:14.00px;" class="td">5.5</text>
<text x="986.86" y="316.20" textLength="28.31" lengthAdjust="spacingAndGlyphs" style="font-size:14.00px;" class="td">-5.5</text>
<text x="1021.96" y="316.20" textLength="28.38" lengthAdjust="spacingAndGlyphs" style="font-size:14.00px;" class="td">-3.7</text>
<text x="1059.79" y="316.20" textLength="21.31" lengthAdjust="spacingAndGlyphs" style="font-size:14.00px;" class="td">0.9</text>
<text x="1095.58" y="316.20" textLength="21.69" lengthAdjust="spacingAndGlyphs" style="font-size:14.00px;" class="td">0.3</text>
<text x="1128.68" y="316.20" textLength="21.41" lengthAdjust="spacingAndGlyphs" style="font-size:14.00px;" class="td">0.9</text>
<text x="1158.40" y="316.20" textLength="26.81" lengthAdjust="spacingAndGlyphs" style="font-size:14.00px;" class="td">-2.9</text>
<text x="847.26" y="284.10" textLength="43.56" lengthAdjust="spacingAndGlyphs" style="font-size:14.50px;" class="tl">Export</text>
<text x="848.03" y="315.40" textLength="66.04" lengthAdjust="spacingAndGlyphs" style="font-size:14.50px;" class="tl">%MOM_sa</text>
</svg>
</body></html>
